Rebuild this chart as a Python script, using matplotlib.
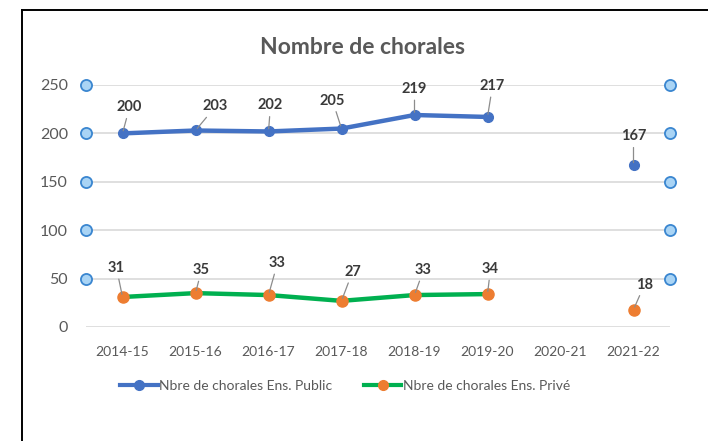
import numpy as np
import matplotlib
matplotlib.use("Agg")
import matplotlib.pyplot as plt
from matplotlib.lines import Line2D
from matplotlib.transforms import blended_transform_factory

years = ["2014-15", "2015-16", "2016-17", "2017-18", "2018-19", "2019-20", "2020-21", "2021-22"]
public = [200, 203, 202, 205, 219, 217, np.nan, 167]
prive = [31, 35, 33, 27, 33, 34, np.nan, 18]
y_ticks = [0, 50, 100, 150, 200, 250]

# label offsets in pixels (dx, dy) from each point
public_off = [(7, 26), (20, 24), (2, 26), (-9, 28), (0, 26), (5, 31), None, (0, 29)]
prive_off = [(-6, 29), (6, 23), (9, 32), (11, 29), (9, 25), (3, 25), None, (11, 25)]

BLUE = "#4472C4"
GREEN = "#00B050"
ORANGE = "#ED7D31"
TXT = "#595959"
LBL = "#3a3a3a"

plt.rcParams["font.family"] = ["Lato", "DejaVu Sans"]

fig = plt.figure(figsize=(7.08, 4.41), dpi=100)
ax = fig.add_axes([86 / 708, 1 - 327 / 441, 584 / 708, 242 / 441])

x = np.arange(len(years))
ax.plot(x, public, color=BLUE, lw=3.2, marker="o", ms=7, mfc=BLUE, mec=BLUE,
        solid_capstyle="round", zorder=3)
ax.plot(x, prive, color=GREEN, lw=3.2, marker="o", ms=8, mfc=ORANGE, mec=ORANGE,
        solid_capstyle="round", zorder=3)

for series, offs in ((public, public_off), (prive, prive_off)):
    for xi, v, off in zip(x, series, offs):
        if np.isnan(v):
            continue
        ax.annotate(f"{v:.0f}", xy=(xi, v), xytext=off, textcoords="offset pixels",
                    ha="center", va="center", fontsize=10.5, fontweight="bold", color=LBL,
                    arrowprops=dict(arrowstyle="-", color="#8c8c8c", lw=0.9,
                                    shrinkA=1, shrinkB=2), zorder=4)

ax.set_xlim(-0.5, len(years) - 0.5)
ax.set_ylim(0, 250)
ax.set_xticks(x)
ax.set_xticklabels(years, fontsize=10, color=TXT)
ax.set_yticks(y_ticks)
ax.set_yticklabels([str(t) for t in y_ticks], fontsize=11.5, color=TXT)
ax.tick_params(axis="x", length=0, pad=14)
ax.tick_params(axis="y", length=0, pad=13)
ax.grid(axis="y", color="#d9d9d9", lw=1.2)
ax.set_axisbelow(True)
for s in ax.spines.values():
    s.set_visible(False)

# little circles at both ends of each gridline
tr = blended_transform_factory(ax.transAxes, ax.transData)
for t in y_ticks[1:]:
    ax.plot([0, 1], [t, t], transform=tr, ls="none", marker="o", ms=8,
            mfc="#A9D4F5", mec="#3A86D0", mew=1.3, clip_on=False, zorder=5)

fig.text(362 / 708, 1 - 47 / 441, "Nombre de chorales", ha="center", va="center",
         fontsize=16.5, fontweight="bold", color=TXT)

handles = [
    Line2D([], [], color=BLUE, lw=3, marker="o", ms=7, mfc=BLUE, mec=BLUE),
    Line2D([], [], color=GREEN, lw=3, marker="o", ms=7, mfc=ORANGE, mec=ORANGE),
]
fig.legend(handles, ["Nbre de chorales Ens. Public", "Nbre de chorales Ens. Privé"],
           loc="center left", bbox_to_anchor=(120 / 708, 1 - 386 / 441),
           frameon=False, fontsize=10, handlelength=2.7, handletextpad=0.1,
           columnspacing=2.3, borderpad=0, borderaxespad=0, ncol=2,
           labelcolor=TXT)

# outer black frame (top and left edges only are inside the picture)
top = 1 - 10 / 441
left = 22 / 708
fig.add_artist(Line2D([left, 1.0], [top, top], transform=fig.transFigure,
                      color="black", lw=1.4))
fig.add_artist(Line2D([left, left], [0.0, top], transform=fig.transFigure,
                      color="black", lw=1.4))

fig.savefig("out.png", dpi=100)
